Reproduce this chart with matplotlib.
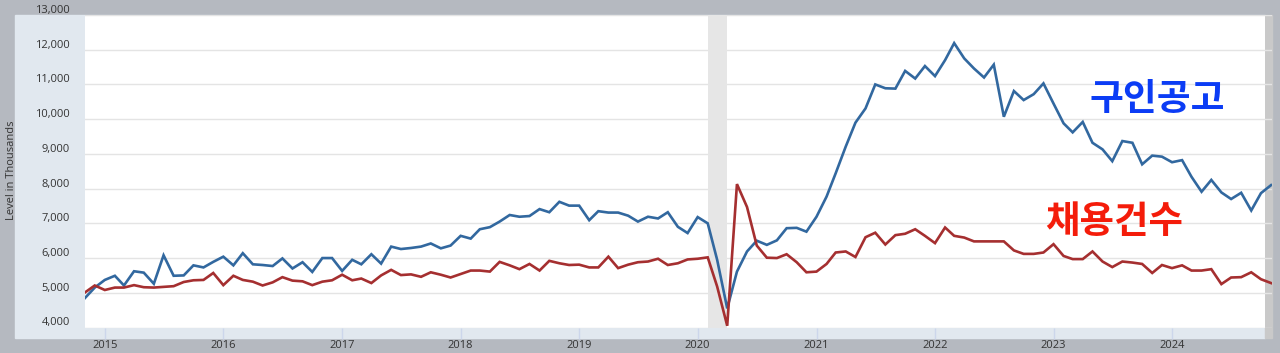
"""Job openings vs hires (JOLTS), Nov 2014 - Nov 2024, FRED-style panel."""

import matplotlib
matplotlib.use("Agg")
import matplotlib.pyplot as plt  # noqa: E402
import matplotlib.dates as mdates  # noqa: E402
import pandas as pd  # noqa: E402
from matplotlib.patches import Rectangle  # noqa: E402
from matplotlib.ticker import FuncFormatter  # noqa: E402
from matplotlib.transforms import ScaledTranslation  # noqa: E402

START_MONTH = "2014-11-01"

# job openings, thousands (monthly, Nov 2014 ..)
openings = [
    4850, 5150, 5370, 5490, 5210, 5620, 5580, 5260, 6080, 5490, 5500, 5790,
    5730, 5890, 6040, 5790, 6140, 5820, 5800, 5770, 5990, 5700, 5880, 5600,
    6000, 6000, 5630, 5950, 5820, 6110, 5840, 6330, 6260, 6290, 6330, 6420,
    6280, 6360, 6640, 6560, 6830, 6890, 7050, 7240, 7190, 7210, 7410, 7320,
    7620, 7510, 7510, 7090, 7350, 7310, 7310, 7220, 7050, 7190, 7140, 7320,
    6900, 6720, 7180, 7000, 5950, 4550, 5610, 6190, 6500, 6380, 6510, 6860,
    6870, 6760, 7190, 7770, 8440, 9210, 9900, 10310, 11000, 10890, 10880, 11390,
    11170, 11530, 11240, 11700, 12190, 11750, 11460, 11200, 11570, 10070, 10810, 10550,
    10720, 11030, 10450, 9880, 9620, 9920, 9320, 9130, 8790, 9370, 9320, 8700,
    8950, 8920, 8760, 8820, 8340, 7910, 8250, 7890, 7700, 7880, 7370, 7870,
    8100,
]

# hires, thousands
hires = [
    5010, 5210, 5080, 5150, 5150, 5220, 5160, 5150, 5170, 5190, 5310, 5360,
    5370, 5570, 5220, 5490, 5370, 5320, 5210, 5300, 5450, 5350, 5330, 5220,
    5320, 5360, 5520, 5360, 5410, 5280, 5500, 5660, 5510, 5530, 5460, 5590,
    5520, 5440, 5540, 5640, 5640, 5610, 5890, 5790, 5680, 5830, 5640, 5920,
    5850, 5800, 5810, 5730, 5730, 6040, 5710, 5810, 5880, 5900, 5980, 5800,
    5850, 5960, 5980, 6020, 5180, 4050, 8130, 7470, 6360, 6010, 6000, 6110,
    5880, 5590, 5610, 5830, 6160, 6190, 6030, 6600, 6730, 6390, 6660, 6700,
    6830, 6640, 6430, 6880, 6640, 6590, 6480, 6480, 6480, 6480, 6220, 6120,
    6120, 6160, 6400, 6060, 5970, 5970, 6190, 5900, 5740, 5900, 5870, 5830,
    5570, 5800, 5710, 5790, 5640, 5640, 5680, 5250, 5440, 5450, 5590, 5390,
    5280,
]

recession = ("2020-02-01", "2020-04-01")
y_ticks = list(range(4000, 13001, 1000))
label_openings = "구인공고"
label_hires = "채용건수"
y_title = "Level in Thousands"

BORDER = "#b5b9c0"
BAND = "#e1e8ef"
BLUE = "#32689f"
RED = "#a52f30"
TXT = "#333333"

W, H = 1280, 353


def fx(px):
    return px / W


def fy(py):
    return 1 - py / H


def main():
    plt.rcParams["font.family"] = ["Open Sans", "DejaVu Sans"]
    months = pd.date_range(START_MONTH, periods=len(openings), freq="MS")

    fig = plt.figure(figsize=(W / 100, H / 100), dpi=100, facecolor=BORDER)
    # light axis band behind the plot, plus the grey strip at the right edge
    fig.patches.append(Rectangle((fx(15), fy(338)), fx(1250), 323 / H,
                                 transform=fig.transFigure, color=BAND, zorder=0))
    fig.patches.append(Rectangle((fx(1265), fy(338)), fx(6.7), 323 / H,
                                 transform=fig.transFigure, color="#c9c9c9", zorder=0))

    ax = fig.add_axes([fx(85), fy(327.5), fx(1186.7), 312.5 / H])
    ax.set_zorder(2)
    ax.set_facecolor("white")
    ax.add_patch(Rectangle((0.9944, 0), 0.0056, 1, transform=ax.transAxes,
                           color="#c9c9c9", zorder=0.5, lw=0))

    ax.axvspan(pd.Timestamp(recession[0]), pd.Timestamp(recession[1]),
               color="#e6e6e6", lw=0, zorder=0.6)
    ax.plot(months, openings, color=BLUE, lw=1.9, zorder=3, solid_joinstyle="miter")
    ax.plot(months, hires, color=RED, lw=1.9, zorder=3, solid_joinstyle="miter")

    ax.set_xlim(pd.Timestamp("2014-11-01"), pd.Timestamp("2024-11-03"))
    ax.set_ylim(4000, 13000)
    ax.set_yticks(y_ticks)
    ax.yaxis.set_major_formatter(FuncFormatter(lambda v, _: f"{v:,.0f}"))
    ax.grid(axis="y", color="#e4e4e4", lw=1)
    ax.set_axisbelow(True)
    ax.tick_params(axis="y", length=0, pad=11, labelsize=8, labelcolor=TXT)
    up = ScaledTranslation(0, 0.06, fig.dpi_scale_trans)
    for lab in ax.get_yticklabels():
        lab.set_transform(lab.get_transform() + up)

    ax.xaxis.set_major_locator(mdates.YearLocator())
    ax.xaxis.set_major_formatter(mdates.DateFormatter("%Y"))
    ax.tick_params(axis="x", direction="out", length=8, width=1, color="#ccd6eb",
                   pad=1, labelsize=8, labelcolor=TXT)
    for s in ax.spines.values():
        s.set_visible(False)

    fig.text(fx(12), fy(170), y_title, rotation=90, ha="center", va="center",
             fontsize=8, color=TXT)

    kr = ["Noto Sans CJK KR", "DejaVu Sans"]
    ax.text(pd.Timestamp("2023-11-15"), 10570, label_openings, family=kr,
            fontsize=26.5, fontweight="bold", color="#0b3cf5", ha="center", va="center")
    ax.text(pd.Timestamp("2023-07-08"), 7040, label_hires, family=kr,
            fontsize=27, fontweight="bold", color="#f41c0a", ha="center", va="center")

    fig.savefig("out.png", dpi=100, facecolor=BORDER)
    plt.close(fig)


if __name__ == "__main__":
    main()
